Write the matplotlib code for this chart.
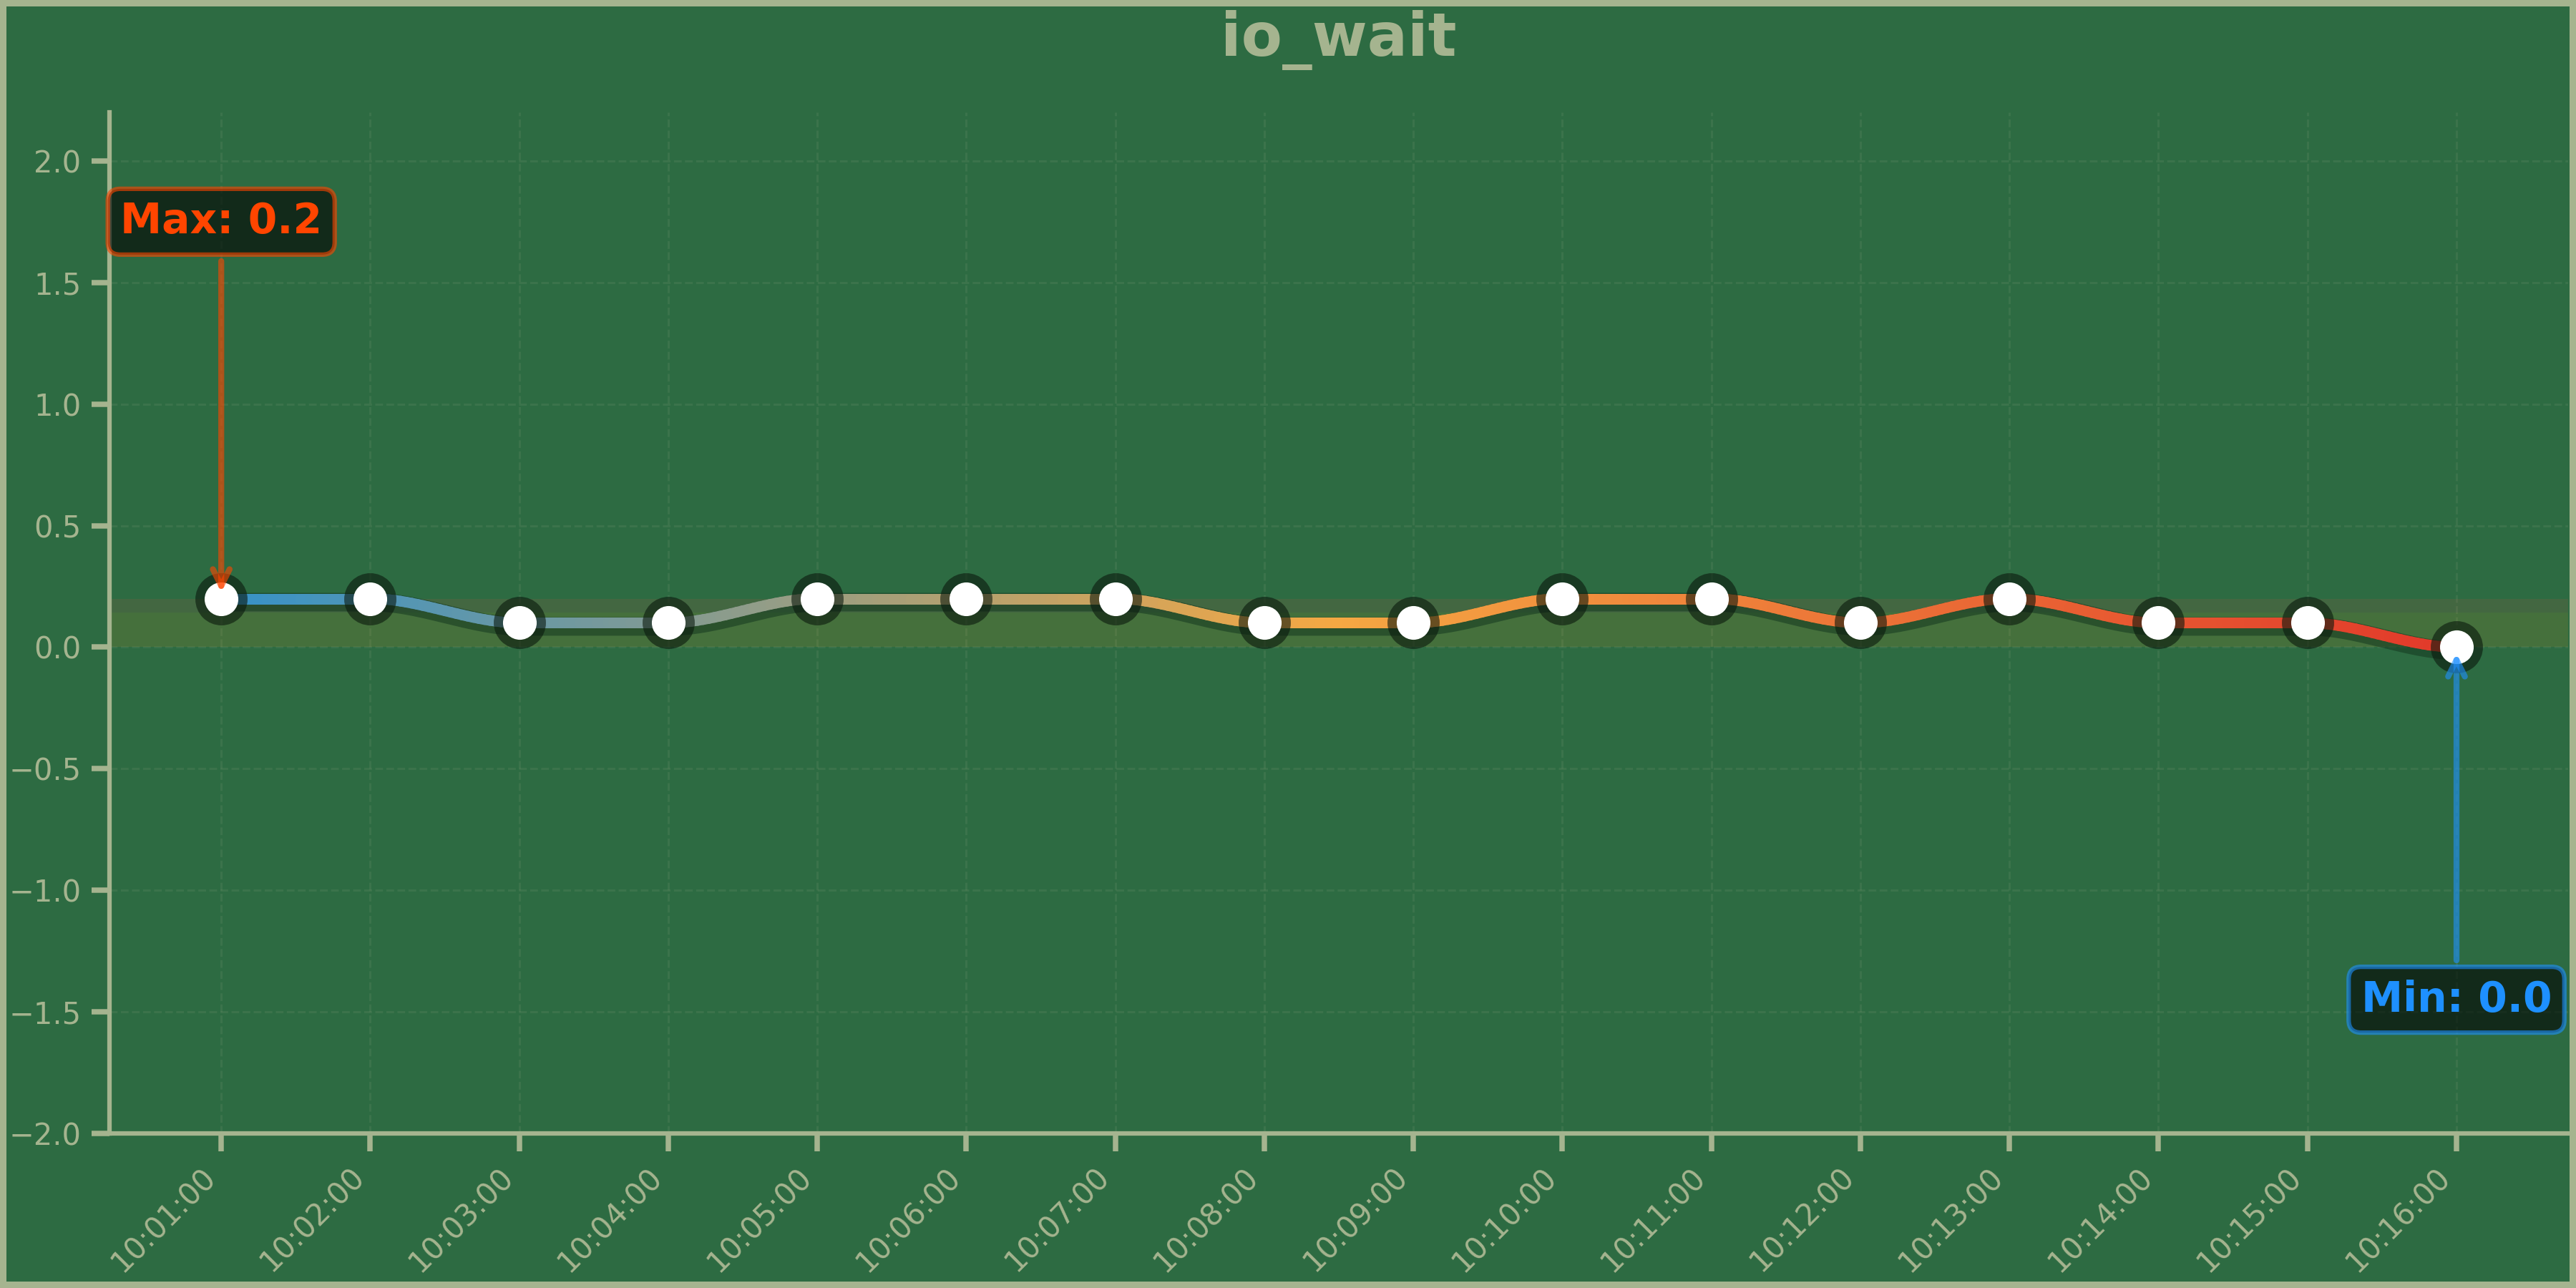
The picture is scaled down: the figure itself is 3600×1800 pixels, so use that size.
import matplotlib
matplotlib.use("Agg")
import matplotlib.pyplot as plt
import matplotlib.patheffects as pe
import numpy as np
from matplotlib.collections import LineCollection
from matplotlib.colors import LinearSegmentedColormap

# data
times = [
    "10:01:00", "10:02:00", "10:03:00", "10:04:00", "10:05:00", "10:06:00",
    "10:07:00", "10:08:00", "10:09:00", "10:10:00", "10:11:00", "10:12:00",
    "10:13:00", "10:14:00", "10:15:00", "10:16:00",
]
io_wait = [0.2, 0.2, 0.1, 0.1, 0.2, 0.2, 0.2, 0.1, 0.1, 0.2, 0.2, 0.1, 0.2, 0.1, 0.1, 0.0]
y_ticks = [-2.0, -1.5, -1.0, -0.5, 0.0, 0.5, 1.0, 1.5, 2.0]

BG = "#2D6B42"
SAGE = "#A5B48F"


def pchip(x, y, n=400):
    # monotone cubic (Fritsch-Carlson), only used to draw the smooth curve
    x = np.asarray(x, dtype=float)
    y = np.asarray(y, dtype=float)
    h = np.diff(x)
    delta = np.diff(y) / h
    d = np.zeros_like(y)
    for i in range(1, len(x) - 1):
        if delta[i - 1] * delta[i] > 0:
            w1 = 2 * h[i] + h[i - 1]
            w2 = h[i] + 2 * h[i - 1]
            d[i] = (w1 + w2) / (w1 / delta[i - 1] + w2 / delta[i])
    xs = np.linspace(x[0], x[-1], n)
    idx = np.clip(np.searchsorted(x, xs) - 1, 0, len(x) - 2)
    t = (xs - x[idx]) / h[idx]
    h00 = 2 * t**3 - 3 * t**2 + 1
    h10 = t**3 - 2 * t**2 + t
    h01 = -2 * t**3 + 3 * t**2
    h11 = t**3 - t**2
    ys = h00 * y[idx] + h10 * h[idx] * d[idx] + h01 * y[idx + 1] + h11 * h[idx] * d[idx + 1]
    return xs, ys


x = np.arange(len(times))
y = np.array(io_wait)
y_min, y_max, y_mean = y.min(), y.max(), y.mean()

fig = plt.figure(figsize=(12, 6), dpi=300, facecolor=BG)
fig.patch.set_edgecolor(SAGE)
fig.patch.set_linewidth(4.3)
ax = fig.add_axes([0.0425, 0.12, 0.9545, 0.7928])
ax.set_facecolor(BG)

# bands: min..mean and mean..max
ax.axhspan(y_min, y_mean, color="#F39C12", alpha=0.12, lw=0, zorder=1)
ax.axhspan(y_mean, y_max, color="#E74C3C", alpha=0.12, lw=0, zorder=1)

xs, ys = pchip(x, y)

# soft shadow under the curve
ax.plot(xs, ys, color="#143820", lw=6.2, alpha=0.55, solid_capstyle="round",
        path_effects=[pe.Stroke(offset=(0.6, -1.2))], zorder=2)

cmap = LinearSegmentedColormap.from_list("grad", ["#3592C9", "#F5A843", "#E2392A"])
pts = np.column_stack([xs, ys]).reshape(-1, 1, 2)
segs = np.concatenate([pts[:-1], pts[1:]], axis=1)
lc = LineCollection(segs, cmap=cmap, linewidths=3.6, capstyle="round", zorder=3)
lc.set_array((xs[:-1] + xs[1:]) / 2)
lc.set_clim(x[0], x[-1])
ax.add_collection(lc)

# dark halo then white dot
ax.plot(x, y, "o", ms=17.5, mfc="#0A190D", mec="none", alpha=0.6, zorder=5)
ax.plot(x, y, "o", ms=11.3, mfc="white", mec="none", zorder=6)

# max / min callouts
i_max = int(np.argmax(y))
i_min = int(np.argmin(y))
ax.annotate(f"Max: {y_max:.1f}", xy=(x[i_max], y_max), xytext=(x[i_max], 1.75),
            ha="center", va="center", fontsize=14, fontweight="bold", color="#FF4500",
            bbox=dict(boxstyle="round,pad=0.3", fc="black", ec="#FF4500", alpha=0.6, lw=1.5),
            arrowprops=dict(arrowstyle="->", color="#FF4500", alpha=0.6, lw=2), zorder=7)
ax.annotate(f"Min: {y_min:.1f}", xy=(x[i_min], y_min), xytext=(x[i_min], -1.45),
            ha="center", va="center", fontsize=14, fontweight="bold", color="#1E90FF",
            bbox=dict(boxstyle="round,pad=0.3", fc="black", ec="#1E90FF", alpha=0.6, lw=1.5),
            arrowprops=dict(arrowstyle="->", color="#1E90FF", alpha=0.6, lw=2), zorder=7)

ax.set_xlim(-0.75, 15.75)
ax.set_ylim(-2.0, 2.2)
ax.set_xticks(x)
ax.set_xticklabels(times, rotation=45, ha="right", fontsize=10, color=SAGE)
ax.set_yticks(y_ticks)
ax.set_yticklabels([f"{v:.1f}".replace("-", "\u2212") for v in y_ticks], fontsize=10, color=SAGE)
ax.tick_params(colors=SAGE, width=1.8, length=6)

ax.grid(True, linestyle="--", color=SAGE, alpha=0.12, lw=0.7)
ax.set_axisbelow(True)

for side in ["top", "right"]:
    ax.spines[side].set_visible(False)
for side in ["left", "bottom"]:
    ax.spines[side].set_color(SAGE)
    ax.spines[side].set_linewidth(1.5)

ax.set_title("io_wait", fontsize=20, fontweight="bold", color=SAGE, pad=19)

fig.savefig("out.png", dpi=300, facecolor=BG, edgecolor=SAGE)
